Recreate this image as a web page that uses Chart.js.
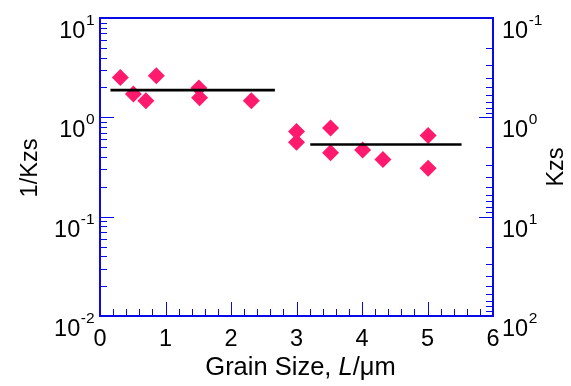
<!DOCTYPE html>
<html>
<head>
<meta charset="utf-8">
<script src="https://cdn.jsdelivr.net/npm/chart.js@4/dist/chart.umd.min.js"></script>
<style>
html,body{margin:0;padding:0;background:#fff;}
#wrap{width:571px;height:386px;position:relative;}
</style>
</head>
<body>
<div id="wrap"><canvas id="c" width="571" height="386"></canvas></div>
<script>
// ---- data ----
const grainSize = [0.31, 0.51, 0.70, 0.86, 1.51, 1.52, 2.31, 3.00, 3.00, 3.52, 3.52, 4.01, 4.32, 5.01, 5.01];
const invKzs    = [2.52, 1.72, 1.47, 2.62, 1.97, 1.57, 1.47, 0.72, 0.56, 0.78, 0.44, 0.47, 0.376, 0.655, 0.307];
const fit1X = [0.16, 2.67];
const fit1Y = [1.88, 1.88];
const fit2X = [3.21, 5.52];
const fit2Y = [0.532, 0.532];
const xTickLabels = ['0', '1', '2', '3', '4', '5', '6'];
const leftExps  = ['-2', '-1', '0', '1'];
const rightExps = ['-1', '0', '1', '2'];
const xTitleParts = ['Grain Size, ', 'L', '/\u03bcm'];
const leftTitle = '1/Kzs';
const rightTitle = 'Kzs';

const AXIS = '#0a0ae6';
const MARK = '#ff1a6e';
const FONT = '"Liberation Sans", Arial, sans-serif';

const toPts = (xs, ys) => xs.map((x, i) => ({x: x, y: ys[i]}));

const decorPlugin = {
  id: 'decor',
  afterDatasetsDraw(chart) {
    const ctx = chart.ctx;
    const a = chart.chartArea;
    const xs = chart.scales.x, yl = chart.scales.y, yr = chart.scales.y2;
    ctx.save();
    // ticks
    ctx.strokeStyle = AXIS;
    ctx.lineWidth = 1;
    ctx.beginPath();
    for (let i = 1; i < 30; i++) {
      const px = Math.round(xs.getPixelForValue(i * 0.2)) + 0.5;
      const len = (i % 5 === 0) ? 14 : 7;
      ctx.moveTo(px, a.bottom); ctx.lineTo(px, a.bottom - len);
    }
    for (let e = -2; e <= 0; e++) {
      for (let m = 1; m <= 9; m++) {
        if (e === -2 && m === 1) continue;
        const py = Math.round(yl.getPixelForValue(m * Math.pow(10, e))) + 0.5;
        const len = (m === 1) ? 14 : 7;
        ctx.moveTo(a.left, py); ctx.lineTo(a.left + len, py);
      }
    }
    for (let e = -1; e <= 1; e++) {
      for (let m = 1; m <= 9; m++) {
        if (e === -1 && m === 1) continue;
        const py = Math.round(yr.getPixelForValue(m * Math.pow(10, e))) + 0.5;
        const len = (m === 1) ? 14 : 7;
        ctx.moveTo(a.right, py); ctx.lineTo(a.right - len, py);
      }
    }
    ctx.stroke();
    // frame
    ctx.lineWidth = 2;
    ctx.strokeRect(a.left, a.top, a.right - a.left, a.bottom - a.top);

    // tick labels
    ctx.fillStyle = '#000';
    ctx.textBaseline = 'alphabetic';
    const big = '23.5px ' + FONT, small = '15.5px ' + FONT;
    ctx.font = big;
    ctx.textAlign = 'center';
    xTickLabels.forEach(t => {
      ctx.fillText(t, xs.getPixelForValue(parseFloat(t)), a.bottom + 30);
    });
    ctx.textAlign = 'left';
    const drawPow = (exp, x, baseY, alignRight) => {
      ctx.font = big; const w1 = ctx.measureText('10').width;
      ctx.font = small; const w2 = ctx.measureText(exp).width;
      const x0 = alignRight ? x - w1 - w2 : x;
      ctx.font = big; ctx.fillText('10', x0, baseY);
      ctx.font = small; ctx.fillText(exp, x0 + w1 + 0.5, baseY - 13);
    };
    leftExps.forEach(e => {
      const py = yl.getPixelForValue(Math.pow(10, parseFloat(e)));
      drawPow(e, a.left - 6, py + 20, true);
    });
    rightExps.forEach(e => {
      const py = yr.getPixelForValue(Math.pow(10, parseFloat(e)));
      drawPow(e, a.right + 9, py + 20, false);
    });

    // axis titles
    const tf = '25.5px ' + FONT, tfi = 'italic 25.5px ' + FONT;
    const fonts = [tf, tfi, tf];
    let total = 0;
    const ws = xTitleParts.map((p, i) => { ctx.font = fonts[i]; const w = ctx.measureText(p).width; total += w; return w; });
    let cx = (a.left + a.right) / 2 + 4 - total / 2;
    xTitleParts.forEach((p, i) => { ctx.font = fonts[i]; ctx.fillText(p, cx, 375); cx += ws[i]; });

    ctx.font = '23.5px ' + FONT;
    ctx.textAlign = 'center';
    ctx.save();
    ctx.translate(37, (a.top + a.bottom) / 2 + 1);
    ctx.rotate(-Math.PI / 2);
    ctx.fillText(leftTitle, 0, 0);
    ctx.restore();
    ctx.save();
    ctx.translate(563, (a.top + a.bottom) / 2);
    ctx.rotate(-Math.PI / 2);
    ctx.fillText(rightTitle, 0, 0);
    ctx.restore();
    ctx.restore();
  }
};

new Chart(document.getElementById('c'), {
  type: 'scatter',
  data: {
    datasets: [
      {label: 'fit1', data: toPts(fit1X, fit1Y), showLine: true, borderColor: '#000', borderWidth: 2.6, pointRadius: 0, yAxisID: 'y', order: 0},
      {label: 'fit2', data: toPts(fit2X, fit2Y), showLine: true, borderColor: '#000', borderWidth: 2.6, pointRadius: 0, yAxisID: 'y', order: 0},
      {label: '1/Kzs', data: toPts(grainSize, invKzs), showLine: false, pointStyle: 'rectRot', pointRadius: 8.5,
       backgroundColor: MARK, borderColor: MARK, borderWidth: 0, yAxisID: 'y', order: 1}
    ]
  },
  options: {
    responsive: false,
    animation: false,
    devicePixelRatio: 1,
    layout: {padding: {top: 18, left: 0, right: 0, bottom: 0}},
    plugins: {legend: {display: false}, tooltip: {enabled: false}},
    scales: {
      x: {type: 'linear', min: 0, max: 6, ticks: {display: false}, grid: {display: false}, border: {display: false},
          afterFit: s => { s.height = 70; }},
      y: {type: 'logarithmic', position: 'left', min: 0.01, max: 10, ticks: {display: false}, grid: {display: false}, border: {display: false},
          afterFit: s => { s.width = 100; }},
      y2: {type: 'logarithmic', position: 'right', min: 0.1, max: 100, reverse: true, ticks: {display: false}, grid: {display: false}, border: {display: false},
          afterFit: s => { s.width = 78; }}
    }
  },
  plugins: [decorPlugin]
});
</script>
</body>
</html>
